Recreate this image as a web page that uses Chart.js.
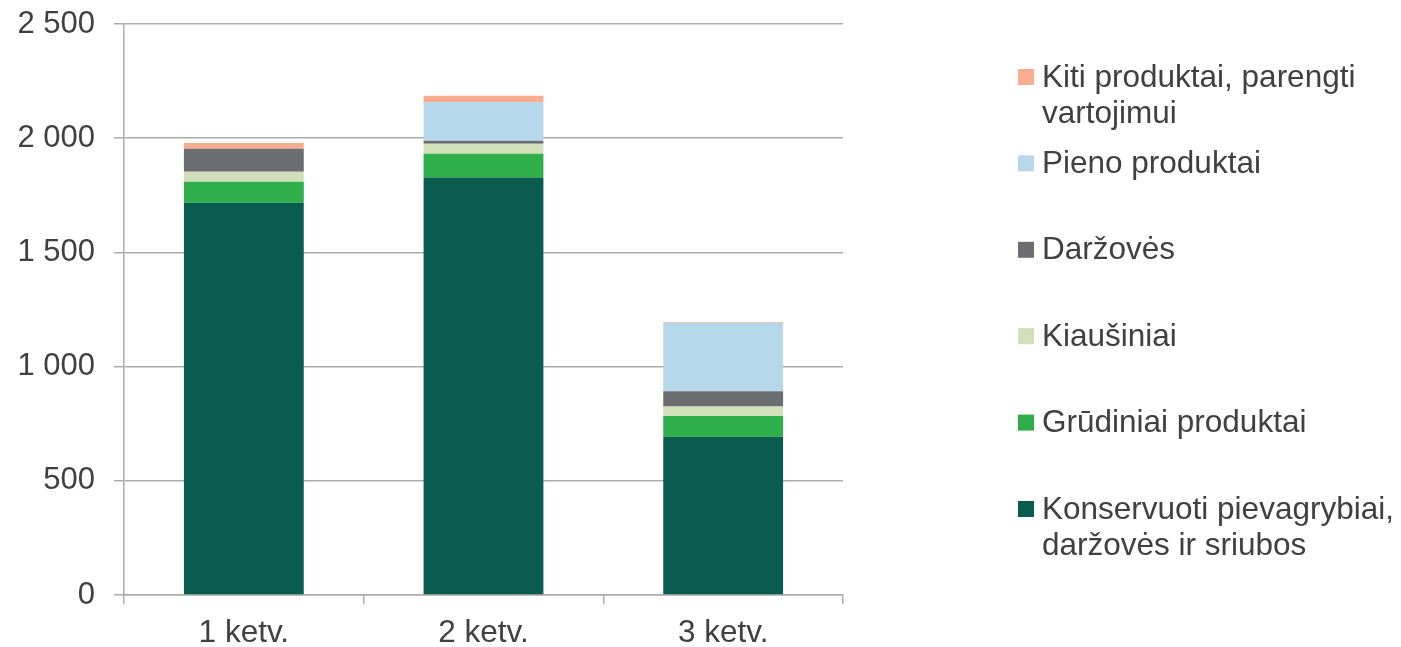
<!DOCTYPE html>
<html>
<head>
<meta charset="utf-8">
<script src="https://cdn.jsdelivr.net/npm/chart.js@4"></script>
<style>
  html, body { margin: 0; padding: 0; background: #ffffff; }
  #wrap { position: relative; width: 1401px; height: 647px; }
</style>
</head>
<body>
<div id="wrap"><canvas id="c" width="1401" height="647"></canvas></div>
<script>
const categories = ["1 ketv.", "2 ketv.", "3 ketv."];
const seriesNames = [
  ["Konservuoti pievagrybiai,", "daržovės ir sriubos"],
  ["Grūdiniai produktai"],
  ["Kiaušiniai"],
  ["Daržovės"],
  ["Pieno produktai"],
  ["Kiti produktai, parengti", "vartojimui"]
];
const konservuoti = [1717, 1828, 693];
const grudiniai = [92, 104, 91];
const kiausiniai = [44, 44, 41];
const darzoves = [101, 13, 67];
const pieno = [0, 168, 300];
const kiti = [25, 29, 3];
const seriesColors = ["#0A5D4E", "#2EAF4A", "#D1DFBB", "#6C6D70", "#B7D8EB", "#F9AD90"];
const yTicks = [0, 500, 1000, 1500, 2000, 2500];

const seriesValues = [konservuoti, grudiniai, kiausiniai, darzoves, pieno, kiti];
const FONT = "'Liberation Sans', Arial, sans-serif";
const TEXT = "#404040";

const legendPlugin = {
  id: 'sideLegend',
  afterDraw(chart) {
    const ctx = chart.ctx;
    ctx.save();
    ctx.font = "31.5px " + FONT;
    ctx.textBaseline = "middle";
    ctx.textAlign = "left";
    const ds = chart.data.datasets;
    const startY = 77, step = 86.4, lineH = 36;
    for (let i = ds.length - 1, k = 0; i >= 0; i--, k++) {
      const cy = startY + k * step;
      ctx.fillStyle = ds[i].backgroundColor;
      ctx.fillRect(1018, cy - 8, 16, 16);
      ctx.fillStyle = TEXT;
      const lines = ds[i].labelLines;
      lines.forEach((ln, j) => ctx.fillText(ln, 1042, cy + 1 + j * lineH));
    }
    ctx.restore();
  }
};

new Chart(document.getElementById('c'), {
  type: 'bar',
  data: {
    labels: categories,
    datasets: seriesValues.map((vals, i) => ({
      label: seriesNames[i].join(' '),
      labelLines: seriesNames[i],
      data: vals,
      backgroundColor: seriesColors[i],
      borderWidth: 0,
      barPercentage: 0.5,
      categoryPercentage: 1.0
    }))
  },
  options: {
    responsive: false,
    animation: false,
    devicePixelRatio: 1,
    layout: { padding: { top: 24, right: 558, left: 0, bottom: 0 } },
    plugins: { legend: { display: false }, tooltip: { enabled: false } },
    scales: {
      x: {
        stacked: true,
        afterFit(s) { s.height = 52; s.paddingLeft = 0; s.paddingRight = 0; },
        grid: { drawOnChartArea: false, drawTicks: true, tickLength: 9, offset: true, color: "#ACACAC", lineWidth: 1.5 },
        border: { color: "#ACACAC", width: 1.5 },
        ticks: { color: TEXT, font: { family: FONT, size: 31.5 }, padding: 10 }
      },
      y: {
        stacked: true,
        min: 0, max: 2500,
        afterFit(s) { s.width = 124; s.paddingTop = 0; s.paddingBottom = 0; },
        afterBuildTicks(s) { s.ticks = yTicks.map(v => ({ value: v })); },
        grid: { color: "#ACACAC", lineWidth: 1.5, tickLength: 10 },
        border: { color: "#ACACAC", width: 1.5 },
        ticks: {
          color: TEXT,
          font: { family: FONT, size: 31 },
          padding: 19,
          callback: v => String(v).replace(/\B(?=(\d{3})+(?!\d))/g, ' ')
        }
      }
    }
  },
  plugins: [legendPlugin]
});
</script>
</body>
</html>
